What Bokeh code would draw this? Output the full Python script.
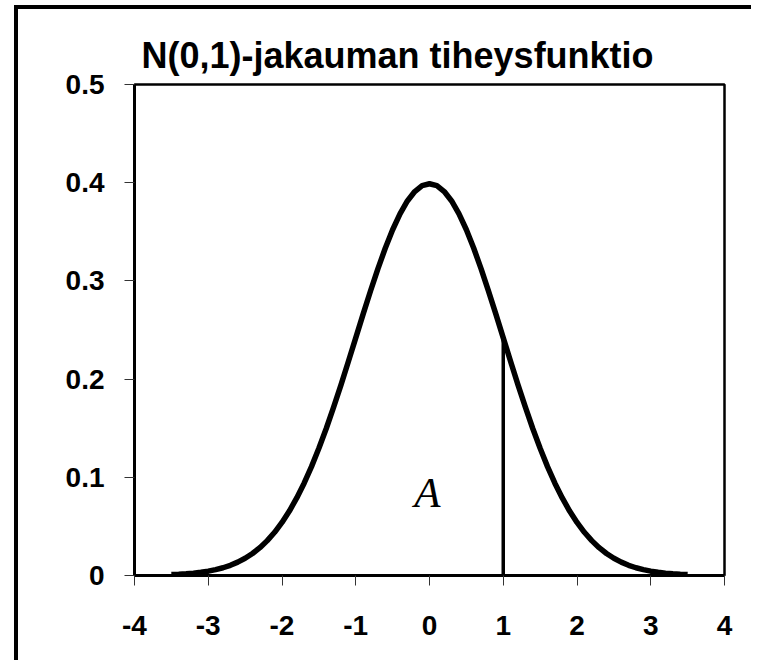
from bokeh.plotting import figure
from bokeh.models import Range1d, Label, FixedTicker, ColumnDataSource
from bokeh.embed import file_html
from bokeh.resources import INLINE

# ---- data ----
title_text = "N(0,1)-jakauman tiheysfunktio"
x_ticks = [-4, -3, -2, -1, 0, 1, 2, 3, 4]
x_tick_labels = ["-4", "-3", "-2", "-1", "0", "1", "2", "3", "4"]
y_ticks = [0, 0.1, 0.2, 0.3, 0.4, 0.5]
y_tick_labels = ["0", "0.1", "0.2", "0.3", "0.4", "0.5"]

z_values = [-3.5, -3.4, -3.3, -3.2, -3.1, -3.0, -2.9, -2.8, -2.7, -2.6,
            -2.5, -2.4, -2.3, -2.2, -2.1, -2.0, -1.9, -1.8, -1.7, -1.6,
            -1.5, -1.4, -1.3, -1.2, -1.1, -1.0, -0.9, -0.8, -0.7, -0.6,
            -0.5, -0.4, -0.3, -0.2, -0.1, 0.0, 0.1, 0.2, 0.3, 0.4,
            0.5, 0.6, 0.7, 0.8, 0.9, 1.0, 1.1, 1.2, 1.3, 1.4,
            1.5, 1.6, 1.7, 1.8, 1.9, 2.0, 2.1, 2.2, 2.3, 2.4,
            2.5, 2.6, 2.7, 2.8, 2.9, 3.0, 3.1, 3.2, 3.3, 3.4, 3.5]
density = [0.0009, 0.0012, 0.0017, 0.0024, 0.0033, 0.0044, 0.0060, 0.0079, 0.0104, 0.0136,
           0.0175, 0.0224, 0.0283, 0.0355, 0.0440, 0.0540, 0.0656, 0.0790, 0.0940, 0.1109,
           0.1295, 0.1497, 0.1714, 0.1942, 0.2179, 0.2420, 0.2661, 0.2897, 0.3123, 0.3332,
           0.3521, 0.3683, 0.3814, 0.3910, 0.3970, 0.3989, 0.3970, 0.3910, 0.3814, 0.3683,
           0.3521, 0.3332, 0.3123, 0.2897, 0.2661, 0.2420, 0.2179, 0.1942, 0.1714, 0.1497,
           0.1295, 0.1109, 0.0940, 0.0790, 0.0656, 0.0540, 0.0440, 0.0355, 0.0283, 0.0224,
           0.0175, 0.0136, 0.0104, 0.0079, 0.0060, 0.0044, 0.0033, 0.0024, 0.0017, 0.0012, 0.0009]

cut_x = [1.0]
cut_y = [0.2420]
area_label = "A"
area_label_x = [-0.03]
area_label_y = [0.085]

FONT = "Liberation Sans"

p = figure(width=751, height=660, output_backend="svg", toolbar_location=None,
           x_range=Range1d(-4, 4), y_range=Range1d(0, 0.5),
           min_border_left=134, min_border_right=27, min_border_top=84, min_border_bottom=85,
           background_fill_color="white", border_fill_color=None)
p.grid.visible = False
p.outline_line_color = "black"
p.outline_line_width = 2.5
p.outline_line_alpha = 1.0

# chart-area frame (left and top edges), drawn as CSS background behind the canvas
p.styles = {
    "background-color": "white",
    "background-image": "linear-gradient(#000, #000), linear-gradient(#000, #000)",
    "background-size": "4px 655px, 737px 4px",
    "background-position": "14px 5px, 14px 5px",
    "background-repeat": "no-repeat",
}

p.title.text = title_text
p.title.text_font = FONT
p.title.text_font_style = "bold"
p.title.text_font_size = "36px"
p.title.text_color = "black"
p.title.align = "left"
p.title.offset = 7
p.title.standoff = 18

for ax in (p.xaxis[0], p.yaxis[0]):
    ax.axis_line_width = 3
    ax.axis_line_color = "black"
    ax.major_tick_line_color = "#333333"
    ax.major_tick_line_width = 1
    ax.major_tick_in = 0
    ax.major_tick_out = 10
    ax.minor_tick_line_color = None
    ax.major_label_text_font = FONT
    ax.major_label_text_font_style = "bold"
    ax.major_label_text_font_size = "28px"
    ax.major_label_text_color = "black"

p.xaxis.ticker = FixedTicker(ticks=x_ticks)
p.yaxis.ticker = FixedTicker(ticks=y_ticks)
p.xaxis.major_label_overrides = {t: l for t, l in zip(x_ticks, x_tick_labels)}
p.yaxis.major_label_overrides = {t: l for t, l in zip(y_ticks, y_tick_labels)}
p.xaxis.major_label_standoff = 30
p.yaxis.major_label_standoff = 20

# curve
src = ColumnDataSource(dict(x=z_values, y=density))
p.line("x", "y", source=src, line_color="black", line_width=5.5, line_join="round")

# vertical cut line at z = 1
p.segment(x0=cut_x, y0=[0] * len(cut_x), x1=cut_x, y1=cut_y, line_color="black", line_width=3.5)

# label A
p.add_layout(Label(x=area_label_x[0], y=area_label_y[0], text=area_label,
                   text_font="Liberation Serif", text_font_style="italic",
                   text_font_size="43px", text_align="center", text_baseline="alphabetic",
                   text_color="black"))

open("out.html", "w").write(file_html(p, INLINE))
